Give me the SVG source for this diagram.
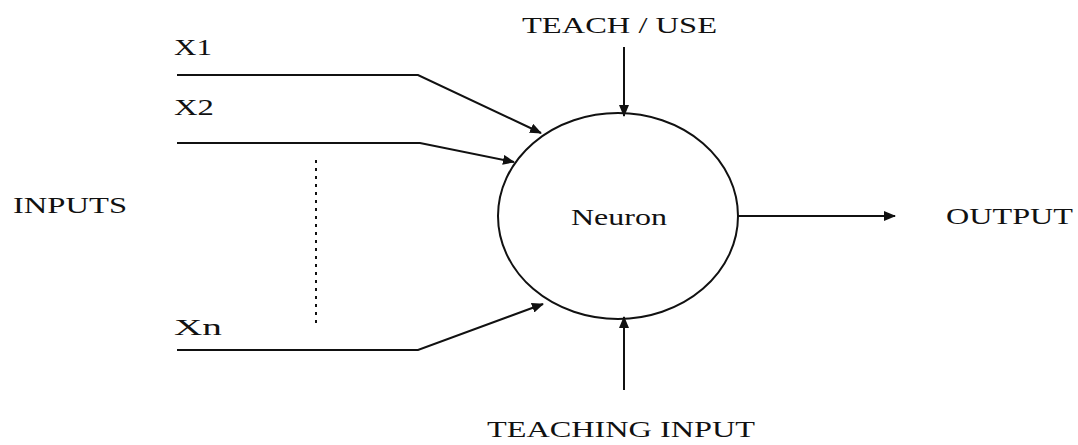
<svg xmlns="http://www.w3.org/2000/svg" width="1078" height="445" viewBox="0 0 1078 445">
<style>
text{font-family:"Liberation Serif","DejaVu Serif",serif;fill:#111;font-size:23px}
.ln{fill:none;stroke:#111;stroke-width:2}
</style>
<defs>
<marker id="ah" markerWidth="12" markerHeight="10" refX="11" refY="5" orient="auto" markerUnits="userSpaceOnUse">
<path d="M0,0 L12,5 L0,10 Z" fill="#111"/>
</marker>
</defs>
<rect width="1078" height="445" fill="#fff"/>
<g id="labels">
<text x="174" y="55" textLength="38" lengthAdjust="spacingAndGlyphs">X1</text>
<text x="174" y="115" textLength="40" lengthAdjust="spacingAndGlyphs">X2</text>
<text x="174" y="335" textLength="48" lengthAdjust="spacingAndGlyphs">Xn</text>
<text x="13" y="213" textLength="114" lengthAdjust="spacingAndGlyphs">INPUTS</text>
<text x="946" y="224" textLength="127" lengthAdjust="spacingAndGlyphs">OUTPUT</text>
</g>
<g id="teach-use"><text x="522" y="33" textLength="195" lengthAdjust="spacingAndGlyphs">TEACH / USE</text></g>
<g id="teaching-input"><text x="487" y="437" textLength="268" lengthAdjust="spacingAndGlyphs">TEACHING INPUT</text></g>
<g id="neuron">
<ellipse cx="618" cy="216" rx="120" ry="103" class="ln" stroke-width="1.6"/>
<text x="571" y="225" font-size="20" textLength="96" lengthAdjust="spacingAndGlyphs">Neuron</text>
</g>
<g id="connectors">
<polyline class="ln" points="177,75 418,75 541,133" marker-end="url(#ah)"/>
<polyline class="ln" points="177,143 420,143 514,162" marker-end="url(#ah)"/>
<polyline class="ln" points="177,350 418,350 543,304" marker-end="url(#ah)"/>
<line class="ln" x1="624" y1="47" x2="624" y2="116" marker-end="url(#ah)"/>
<line class="ln" x1="624" y1="390" x2="624" y2="317" marker-end="url(#ah)"/>
<line class="ln" x1="738" y1="216" x2="895" y2="216" marker-end="url(#ah)"/>
<line x1="316" y1="160" x2="316" y2="324" stroke="#111" stroke-width="2" stroke-dasharray="3,5"/>
</g>
</svg>
